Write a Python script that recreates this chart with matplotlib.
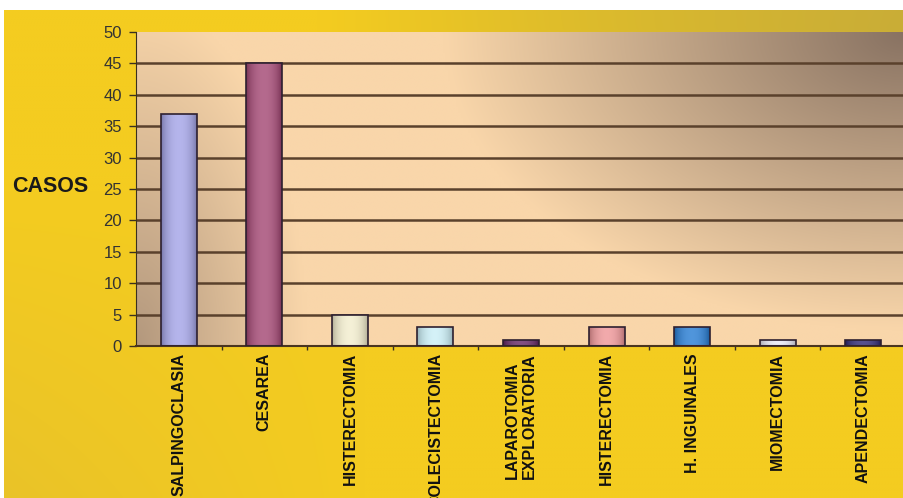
import numpy as np
import matplotlib.pyplot as plt
from matplotlib.colors import to_rgb

plt.rcParams['font.family'] = ['Liberation Sans', 'DejaVu Sans']

procedimientos = ["SALPINGOCLASIA", "CESAREA", "HISTERECTOMIA", "COLECISTECTOMIA",
                  "LAPAROTOMIA\nEXPLORATORIA", "HISTERECTOMIA", "H. INGUINALES",
                  "MIOMECTOMIA", "APENDECTOMIA"]
casos = [37, 45, 5, 3, 1, 3, 3, 1, 1]
colores = ["#a0a0e6", "#a0406e", "#f2eccb", "#c8eef6", "#5e1f5e",
           "#ee9294", "#1f78d2", "#e6e6f4", "#27206e"]
yticks = list(range(0, 55, 5))


def mezcla(c1, c2, t):
    c1 = np.array(c1, float) / 255.0
    c2 = np.array(c2, float) / 255.0
    t = np.clip(t, 0, 1)[..., None]
    return c1 * (1 - t) + c2 * t


fig = plt.figure(figsize=(9.04, 4.98), dpi=100)
fig.patch.set_facecolor("white")

# fondo amarillo
bg = fig.add_axes([4 / 904, 0, 900 / 904, 488 / 498], zorder=-10)
gy, gx = np.mgrid[1:0:200j, 0:1:300j]
fondo = mezcla((244, 204, 32), (180, 160, 62),
               0.75 * np.clip((gx - 0.35) / 0.65, 0, 1) * np.clip((gy - 0.9) / 0.06, 0, 1))
fondo = fondo * (1 - 0.35 * np.clip((1 - gx * 2.5) * (1 - gy * 1.6), 0, 1)[..., None]) \
    + np.array([0.84, 0.70, 0.22]) * (0.35 * np.clip((1 - gx * 2.5) * (1 - gy * 1.6), 0, 1)[..., None])
bg.imshow(fondo, extent=(0, 1, 0, 1), aspect="auto", interpolation="bilinear")
bg.set_axis_off()

ax = fig.add_axes([136 / 904, 152 / 498, 770 / 904, 314 / 498])
ax.set_facecolor("none")

# degradado del area de trazado
v, u = np.mgrid[1:0:200j, 0:1:300j]
d_tr = np.clip(1 - np.sqrt(((1 - u) / 0.6) ** 2 + ((1 - v) / 0.95) ** 2), 0, 1)
d_bl = 0.62 * np.clip(1 - np.sqrt((u / 0.22) ** 2 + (v / 1.1) ** 2), 0, 1)
d = 1 - (1 - d_tr) * (1 - d_bl)
area = mezcla((249, 214, 170), (136, 114, 98), d)
ax.imshow(area, extent=(0, 1, 0, 1), transform=ax.transAxes, aspect="auto",
          interpolation="bilinear", zorder=0)

for y in yticks[1:-1]:
    ax.axhline(y, color="#5a412c", lw=1.8, zorder=1)

x = np.arange(len(casos))
barras = ax.bar(x, casos, width=0.42, color="none", edgecolor="#2e2030", lw=1.2, zorder=3)

# sombreado cilindrico de cada barra
perfil = np.linspace(-1, 1, 40)
for b, c in zip(barras, colores):
    base = np.array(to_rgb(c))
    luz = np.clip(1 - perfil ** 2, 0, 1) ** 0.7
    grad = base * (0.72 + 0.28 * luz[:, None]) + (1 - base) * (0.22 * luz[:, None])
    img = ax.imshow(grad[None, :, :], extent=(b.get_x(), b.get_x() + b.get_width(),
                                              0, b.get_height()),
                    aspect="auto", interpolation="bilinear", zorder=2.5)
    img.set_clip_path(b)

ax.set_xlim(-0.5, 8.5)
ax.set_ylim(0, 50)
ax.set_yticks(yticks)
ax.tick_params(axis="y", length=5, width=1, color="#3a3020", pad=5,
               labelsize=12, labelcolor="#333333")
ax.set_xticks(x)
ax.set_xticklabels(procedimientos, rotation=90, fontsize=11.5, fontweight="bold",
                   va="top", ha="center", multialignment="left", color="#111111")
ax.tick_params(axis="x", length=0, pad=5)
ax.set_xticks(x[:-1] + 0.5, minor=True)
ax.tick_params(axis="x", which="minor", length=3, width=1, color="#3a3020")

for s in ["top", "right"]:
    ax.spines[s].set_visible(False)
ax.spines["left"].set_color("#3a3020")
ax.spines["bottom"].set_color("#4a3520")
ax.spines["bottom"].set_linewidth(1.5)

fig.text(12 / 904, 1 - 186 / 498, "CASOS", fontsize=15.5, fontweight="bold",
         color="#1a1a1a", ha="left", va="center")

fig.savefig("out.png", dpi=100, facecolor=fig.get_facecolor())
